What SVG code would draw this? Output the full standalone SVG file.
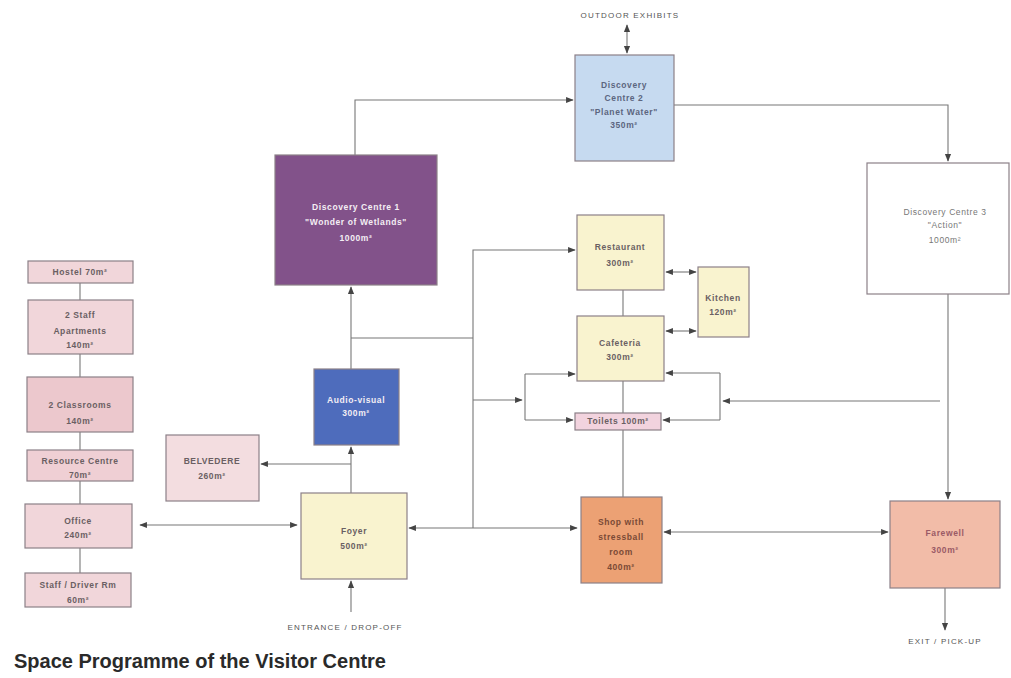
<svg xmlns="http://www.w3.org/2000/svg" width="1011" height="678" viewBox="0 0 1011 678">
<style>
.n{stroke:#8c8088;stroke-width:1.2}
.t{font-family:"Liberation Sans",Arial,sans-serif;font-size:8.5px;font-weight:bold;fill:#6a5f63;text-anchor:middle;letter-spacing:0.6px}
.w{fill:#f4eef4}
.lbl{font-family:"Liberation Sans",Arial,sans-serif;font-size:8px;fill:#555;text-anchor:middle;letter-spacing:1.2px}
.c{fill:none;stroke:#777;stroke-width:1.1}
</style>
<defs>
<marker id="a" viewBox="0 0 10 10" refX="9" refY="5" markerWidth="7" markerHeight="7" orient="auto-start-reverse"><path d="M0,1 L10,5 L0,9 z" fill="#444"/></marker>
</defs>
<rect width="1011" height="678" fill="#fff"/>
<g id="connectors">
<path class="c" d="M80,283 V573"/>
<path class="c" d="M140,525 H297" marker-start="url(#a)" marker-end="url(#a)"/>
<path class="c" d="M351,493 V447" marker-end="url(#a)"/>
<path class="c" d="M351,464 H261" marker-end="url(#a)"/>
<path class="c" d="M351,369 V287" marker-end="url(#a)"/>
<path class="c" d="M351,612 V581" marker-end="url(#a)"/>
<path class="c" d="M355,155 V100 H573" marker-end="url(#a)"/>
<path class="c" d="M627,25 V53" marker-start="url(#a)" marker-end="url(#a)"/>
<path class="c" d="M674,105 H948 V161" marker-end="url(#a)"/>
<path class="c" d="M948,294 V499" marker-end="url(#a)"/>
<path class="c" d="M945,588 V630" marker-end="url(#a)"/>
<path class="c" d="M409,528 H577" marker-start="url(#a)" marker-end="url(#a)"/>
<path class="c" d="M664,532 H888" marker-start="url(#a)" marker-end="url(#a)"/>
<path class="c" d="M473,528 V250 H575" marker-end="url(#a)"/>
<path class="c" d="M351,338 H473"/>
<path class="c" d="M473,400 H522" marker-end="url(#a)"/>
<path class="c" d="M525,374 V420"/>
<path class="c" d="M525,374 H575" marker-end="url(#a)"/>
<path class="c" d="M525,420 H573" marker-end="url(#a)"/>
<path class="c" d="M940,401 H723" marker-end="url(#a)"/>
<path class="c" d="M720,373 V420"/>
<path class="c" d="M720,373 H666" marker-end="url(#a)"/>
<path class="c" d="M720,420 H663" marker-end="url(#a)"/>
<path class="c" d="M666,272 H696" marker-start="url(#a)" marker-end="url(#a)"/>
<path class="c" d="M666,331 H696" marker-start="url(#a)" marker-end="url(#a)"/>
<path class="c" d="M623,290 V316"/>
<path class="c" d="M623,381 V413"/>
<path class="c" d="M623,430 V497"/>
</g>
<g id="hostel"><rect class="n" x="28" y="261" width="105" height="22" fill="#f1d6da"/><text class="t" x="80" y="275">Hostel 70m²</text></g>
<g id="apartments"><rect class="n" x="28" y="300" width="105" height="54" fill="#f1d6da"/><text class="t" x="80" y="318">2 Staff</text><text class="t" x="80" y="334">Apartments</text><text class="t" x="80" y="348">140m²</text></g>
<g id="classrooms"><rect class="n" x="27" y="377" width="106" height="55" fill="#ecc8cd"/><text class="t" x="80" y="408">2 Classrooms</text><text class="t" x="80" y="424">140m²</text></g>
<g id="resource"><rect class="n" x="27" y="450" width="106" height="31" fill="#efcfd4"/><text class="t" x="80" y="464">Resource Centre</text><text class="t" x="80" y="478">70m²</text></g>
<g id="office"><rect class="n" x="25" y="504" width="107" height="44" fill="#f1d6da"/><text class="t" x="78" y="524">Office</text><text class="t" x="78" y="538">240m²</text></g>
<g id="staffrm"><rect class="n" x="25" y="573" width="106" height="34" fill="#f1d6da"/><text class="t" x="78" y="588">Staff / Driver Rm</text><text class="t" x="78" y="603">60m²</text></g>
<g id="belvedere"><rect class="n" x="166" y="435" width="93" height="66" fill="#f3dde0"/><text class="t" x="212" y="464">BELVEDERE</text><text class="t" x="212" y="479">260m²</text></g>
<g id="foyer"><rect class="n" x="301" y="493" width="106" height="86" fill="#f9f3cf"/><text class="t" x="354" y="534">Foyer</text><text class="t" x="354" y="549">500m²</text></g>
<g id="av"><rect class="n" x="314" y="369" width="85" height="76" fill="#4e6cbc" stroke="#3c528f"/><text class="t w" x="356" y="403">Audio-visual</text><text class="t w" x="356" y="416">300m²</text></g>
<g id="dc1"><rect class="n" x="275" y="155" width="162" height="130" fill="#82528a" stroke="#6a4070"/><text class="t w" x="356" y="210">Discovery Centre 1</text><text class="t w" x="356" y="225">"Wonder of Wetlands"</text><text class="t w" x="356" y="241">1000m²</text></g>
<g id="dc2"><rect class="n" x="575" y="55" width="99" height="106" fill="#c6daf0"/><text class="t" x="624" y="88" style="fill:#5c6680">Discovery</text><text class="t" x="624" y="101" style="fill:#5c6680">Centre 2</text><text class="t" x="624" y="115" style="fill:#5c6680">"Planet Water"</text><text class="t" x="624" y="128" style="fill:#5c6680">350m²</text></g>
<g id="dc3"><rect class="n" x="867" y="163" width="142" height="131" fill="#ffffff"/><text class="t" x="945" y="215" style="font-weight:normal;fill:#777">Discovery Centre 3</text><text class="t" x="945" y="228" style="font-weight:normal;fill:#777">"Action"</text><text class="t" x="945" y="243" style="font-weight:normal;fill:#777">1000m²</text></g>
<g id="restaurant"><rect class="n" x="577" y="215" width="87" height="75" fill="#f9f3cf"/><text class="t" x="620" y="250">Restaurant</text><text class="t" x="620" y="266">300m²</text></g>
<g id="kitchen"><rect class="n" x="698" y="267" width="51" height="70" fill="#f9f3cf"/><text class="t" x="723" y="301">Kitchen</text><text class="t" x="723" y="315">120m²</text></g>
<g id="cafeteria"><rect class="n" x="577" y="316" width="87" height="65" fill="#f9f3cf"/><text class="t" x="620" y="346">Cafeteria</text><text class="t" x="620" y="360">300m²</text></g>
<g id="toilets"><rect class="n" x="575" y="413" width="86" height="17" fill="#f2d3de"/><text class="t" x="618" y="424">Toilets 100m²</text></g>
<g id="shop"><rect class="n" x="581" y="497" width="81" height="86" fill="#eca174"/><text class="t" x="621" y="525" style="fill:#7a4a36">Shop with</text><text class="t" x="621" y="540" style="fill:#7a4a36">stressball</text><text class="t" x="621" y="555" style="fill:#7a4a36">room</text><text class="t" x="621" y="570" style="fill:#7a4a36">400m²</text></g>
<g id="farewell"><rect class="n" x="890" y="501" width="110" height="87" fill="#f2bca8"/><text class="t" x="945" y="536" style="fill:#9a5a66">Farewell</text><text class="t" x="945" y="553" style="fill:#9a5a66">300m²</text></g>
<g id="labels">
<text class="lbl" x="630" y="18">OUTDOOR EXHIBITS</text>
<text class="lbl" x="345" y="630">ENTRANCE / DROP-OFF</text>
<text class="lbl" x="945" y="644">EXIT / PICK-UP</text>
<text x="14" y="668" font-family="Liberation Sans,Arial,sans-serif" font-size="20" font-weight="bold" fill="#2a2a2a">Space Programme of the Visitor Centre</text>
</g>
</svg>
